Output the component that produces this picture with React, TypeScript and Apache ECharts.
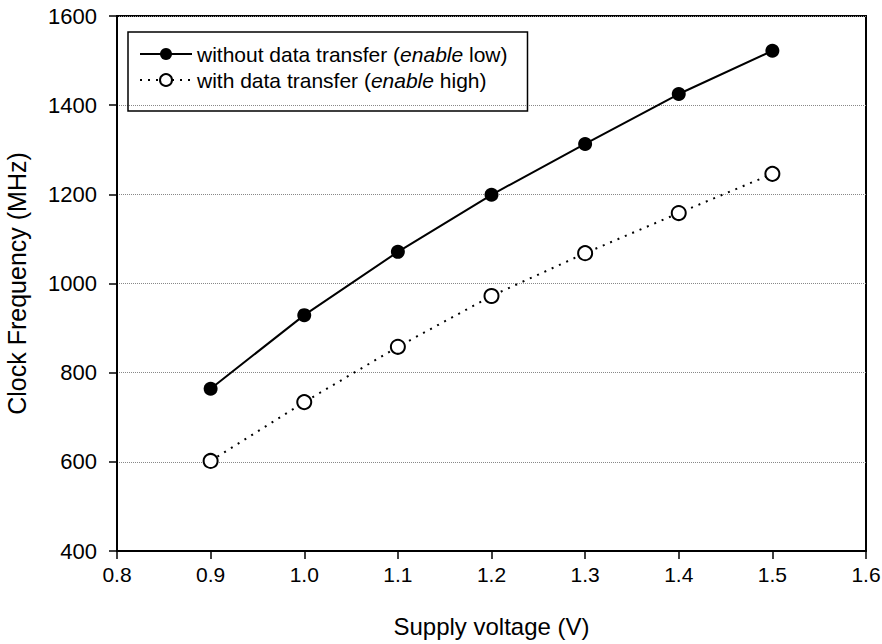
import React, { useEffect, useRef } from "react";
import * as echarts from "echarts";

const voltages = [0.9, 1.0, 1.1, 1.2, 1.3, 1.4, 1.5];
const freqWithout = [764, 929, 1071, 1199, 1313, 1425, 1522];
const freqWith = [602, 734, 858, 972, 1068, 1158, 1246];
const seriesNames = ["without data transfer", "with data transfer"];
const legendTexts = ["without data transfer ({i|enable} low)", "with data transfer ({i|enable} high)"];

const FONT = "'Liberation Sans', Arial, Helvetica, sans-serif";

export default function App() {
  const ref = useRef<HTMLDivElement>(null);
  useEffect(() => {
    if (!ref.current) return;
    const chart = echarts.init(ref.current, undefined, { renderer: "svg" });
    chart.setOption({
      animation: false,
      backgroundColor: "#fff",
      textStyle: { fontFamily: FONT, color: "#000" },
      grid: {
        left: 117,
        right: 16,
        top: 16,
        bottom: 93,
        containLabel: false,
        outerBoundsMode: "none",
        show: true,
        borderColor: "#000",
        borderWidth: 2,
      },
      legend: {
        left: 128,
        top: 32,
        orient: "vertical",
        borderColor: "#000",
        borderWidth: 1.5,
        padding: [11, 20, 20, 11],
        itemGap: 4,
        itemWidth: 52,
        itemHeight: 15,
        data: seriesNames,
        formatter: (name: string) => legendTexts[seriesNames.indexOf(name)],
        textStyle: {
          fontFamily: FONT,
          fontSize: 21,
          color: "#000",
          lineHeight: 22,
          rich: { i: { fontStyle: "italic", fontFamily: FONT, fontSize: 21, color: "#000" } },
        },
      },
      xAxis: {
        type: "value",
        min: 0.8,
        max: 1.6,
        interval: 0.1,
        name: "Supply voltage (V)",
        nameLocation: "middle",
        nameGap: 63,
        nameTextStyle: { fontFamily: FONT, fontSize: 24, color: "#000" },
        axisLine: { show: true, lineStyle: { color: "#000", width: 2 } },
        axisTick: { show: true, inside: false, length: 8, lineStyle: { color: "#000", width: 1.5 } },
        axisLabel: { fontFamily: FONT, fontSize: 21, color: "#000", margin: 13, formatter: (v: number) => v.toFixed(1) },
        splitLine: { show: false },
      },
      yAxis: {
        type: "value",
        min: 400,
        max: 1600,
        interval: 200,
        name: "Clock Frequency (MHz)",
        nameLocation: "middle",
        nameGap: 88,
        nameTextStyle: { fontFamily: FONT, fontSize: 25, color: "#000" },
        axisLine: { show: true, lineStyle: { color: "#000", width: 2 } },
        axisTick: { show: true, inside: false, length: 8, lineStyle: { color: "#000", width: 1.5 } },
        axisLabel: { fontFamily: FONT, fontSize: 22, color: "#000", margin: 20, formatter: (v: number) => String(v) },
        splitLine: { show: true, lineStyle: { color: "#888", type: "dotted", width: 1 } },
      },
      series: [
        {
          name: seriesNames[0],
          type: "line",
          data: voltages.map((v, i) => [v, freqWithout[i]]),
          symbol: "circle",
          symbolSize: 14,
          itemStyle: { color: "#000" },
          lineStyle: { color: "#000", width: 2, type: "solid" },
          z: 3,
        },
        {
          name: seriesNames[1],
          type: "line",
          data: voltages.map((v, i) => [v, freqWith[i]]),
          symbol: "circle",
          symbolSize: 14,
          itemStyle: { color: "#fff", borderColor: "#000", borderWidth: 2 },
          lineStyle: { color: "#000", width: 2, type: [2, 6] },
          z: 3,
        },
      ],
    });
    return () => chart.dispose();
  }, []);
  return (
    <div
      ref={ref}
      style={{ position: "absolute", left: 0, top: 0, width: 882, height: 644 }}
    />
  );
}
